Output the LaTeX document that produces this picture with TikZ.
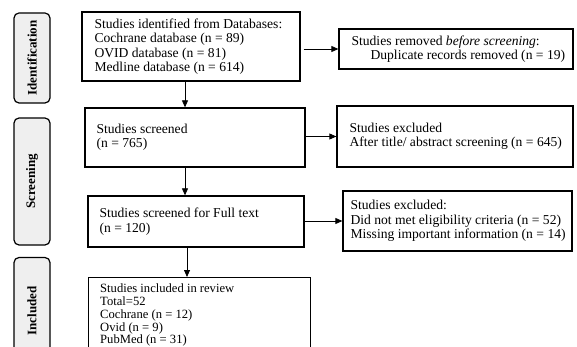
\documentclass[tikz,border=0pt]{standalone}
\usepackage{fontspec}
\setmainfont{Liberation Serif}
\usetikzlibrary{arrows.meta}
\definecolor{tabgray}{HTML}{EFEFEF}
\begin{document}
\begin{tikzpicture}[x=1pt,y=-1pt,
  box/.style={draw=black, line width=1.3pt, inner sep=0pt},
  txt/.style={inner sep=0pt, align=left, anchor=west, font=\fontsize{13.6}{14.4}\selectfont},
  smalltxt/.style={inner sep=0pt, align=left, anchor=north west, font=\fontsize{12.6}{12.7}\selectfont},
  tab/.style={draw=black, line width=1.2pt, fill=tabgray, rounded corners=5pt,
    minimum height=36pt, inner sep=0pt, rotate=90, font=\bfseries\fontsize{13}{13}\selectfont},
  arr/.style={-{Triangle[length=7pt,width=6pt]}, line width=0.8pt}]
\useasboundingbox (0,0) rectangle (577,347);

% stage tabs on the left
\node[tab, minimum width=90pt]  (tabid)  at (32,58)    {Identification};
\node[tab, minimum width=127pt] (tabscr) at (32,181.5) {Screening};
\node[tab, minimum width=107pt] (tabinc) at (32,311)   {Included};

% main column
\node[box, minimum width=218pt, minimum height=69pt] (ident) at (191,46.5) {};
\node[txt] (identt) at ([xshift=13pt]ident.west)
  {Studies identified from Databases:\\Cochrane database (n = 89)\\OVID database (n = 81)\\Medline database (n = 614)};

\node[box, minimum width=220pt, minimum height=59pt] (scr) at (195,137.5) {};
\node[txt] (scrt) at ([xshift=12pt]scr.west) {Studies screened\\(n = 765)};

\node[box, minimum width=216pt, minimum height=51pt] (full) at (196,221.5) {};
\node[txt] (fullt) at ([xshift=12pt]full.west) {Studies screened for Full text\\(n = 120)};

\node[box, minimum width=222pt, minimum height=85pt, anchor=north west] (inc) at (88,277) {};
\node[smalltxt] (inct) at ([shift={(12,7)}]inc.north west)
  {Studies included in review\\Total=52\\Cochrane (n = 12)\\Ovid (n = 9)\\PubMed (n = 31)};

% side column
\node[box, minimum width=234pt, minimum height=40pt] (rem) at (456,49) {};
\node[txt] (remt) at ([xshift=13pt]rem.west)
  {Studies removed \textit{before screening}:\\\hspace*{19pt}Duplicate records removed (n = 19)};

\node[box, minimum width=236pt, minimum height=61pt] (exa) at (455,136.5) {};
\node[txt] (exat) at ([xshift=13pt]exa.west)
  {Studies excluded\\After title/ abstract screening (n = 645)};

\node[box, minimum width=229pt, minimum height=60pt] (exb) at (457.5,221) {};
\node[txt] (exbt) at ([xshift=8pt]exb.west)
  {Studies excluded:\\Did not met eligibility criteria (n = 52)\\Missing important information (n = 14)};

% connectors
\coordinate (colA) at (185,0);
\coordinate (colB) at (187,0);
\draw[arr] ([xshift=3pt]ident.east |- rem.west) -- (rem.west);
\draw[arr] (scr.east |- exa.west) -- (exa.west);
\draw[arr] (full.east |- exb.west) -- (exb.west);
\draw[arr] (ident.south -| colA) -- (scr.north -| colA);
\draw[arr] (scr.south -| colA) -- (full.north -| colA);
\draw[arr] (full.south -| colB) -- (inc.north -| colB);
\end{tikzpicture}
\end{document}
